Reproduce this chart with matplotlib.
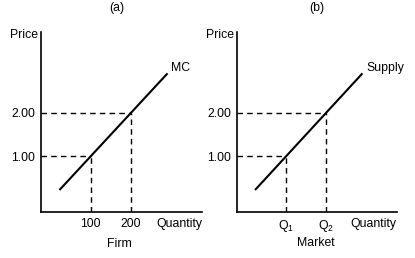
import matplotlib
matplotlib.use("Agg")
import matplotlib.pyplot as plt

plt.rcParams['font.family'] = ['Liberation Sans', 'DejaVu Sans']
plt.rcParams['mathtext.fontset'] = 'custom'
plt.rcParams['mathtext.rm'] = 'Liberation Sans'
plt.rcParams['mathtext.it'] = 'Liberation Sans'

# Data
price_levels = [1.00, 2.00]
price_labels = ["1.00", "2.00"]
quantity_levels = [100, 200]
firm_qty_labels = ["100", "200"]
market_qty_labels = [r"Q$_1$", r"Q$_2$"]
curve_q = [22, 292]
curve_p = [0.21, 2.92]
panel_titles = ["(a)", "(b)"]
panel_names = ["Firm", "Market"]
curve_names = ["MC", "Supply"]

fig = plt.figure(figsize=(4.15, 2.58), dpi=100)
W, H = 415, 258
FS = 8.8

def make_ax(left_px, right_px, top_px=32, bottom_px=212):
    return fig.add_axes([left_px / W, 1 - bottom_px / H,
                         (right_px - left_px) / W, (bottom_px - top_px) / H])

axes = [make_ax(41, 202), make_ax(236.7, 396.7)]
qlabels = [firm_qty_labels, market_qty_labels]

for i, ax in enumerate(axes):
    ax.set_xlim(-24, 378)
    ax.set_ylim(-0.30, 3.88)
    for s in ['top', 'right']:
        ax.spines[s].set_visible(False)
    for s in ['left', 'bottom']:
        ax.spines[s].set_linewidth(1.2)
        ax.spines[s].set_color('black')
    ax.plot(curve_q, curve_p, color='black', lw=1.5, solid_capstyle='butt')
    for q, p in zip(quantity_levels, price_levels):
        ax.plot([ax.get_xlim()[0], q], [p, p], color='black', lw=1.0,
                dashes=(4, 3))
        ax.plot([q, q], [ax.get_ylim()[0], p], color='black', lw=1.0,
                dashes=(4, 3))
    ax.set_yticks(price_levels)
    ax.set_yticklabels(price_labels, fontsize=FS)
    ax.set_xticks(quantity_levels)
    ax.set_xticklabels(qlabels[i], fontsize=FS)
    ax.tick_params(axis='y', length=0, pad=4.2)
    ax.tick_params(axis='x', length=0, pad=4)
    ax.text(-0.02, 0.983, "Price", transform=ax.transAxes, ha='right',
            va='center', fontsize=FS)
    ax.text(1.0, -0.035, "Quantity", transform=ax.transAxes, ha='right',
            va='top', fontsize=FS)
    ax.text(curve_q[1] + 9, curve_p[1] + 0.12, curve_names[i], ha='left',
            va='center', fontsize=FS)

fig.text(117 / W, 1 - 8 / H, panel_titles[0], ha='center', va='center', fontsize=FS)
fig.text(316.7 / W, 1 - 8 / H, panel_titles[1], ha='center', va='center', fontsize=FS)
fig.text(119 / W, 1 - 244 / H, panel_names[0], ha='center', va='center', fontsize=FS)
fig.text(316 / W, 1 - 243 / H, panel_names[1], ha='center', va='center', fontsize=FS)

fig.savefig("out.png", dpi=100)
